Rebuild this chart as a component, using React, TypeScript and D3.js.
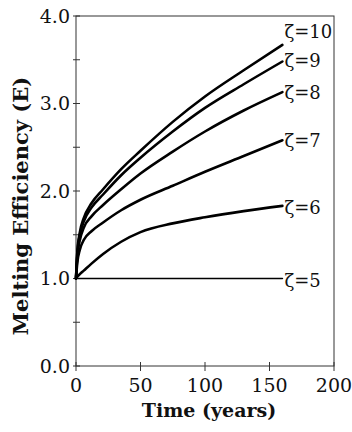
import * as d3 from 'd3';

const years = [0, 1, 3, 6, 12, 21, 35, 50, 75, 100, 130, 160];
const zeta10 = [1, 1.3, 1.53, 1.69, 1.86, 2.02, 2.25, 2.46, 2.79, 3.08, 3.38, 3.67];
const zeta9 = [1, 1.28, 1.5, 1.65, 1.81, 1.96, 2.18, 2.38, 2.68, 2.95, 3.22, 3.48];
const zeta8 = [1, 1.25, 1.44, 1.58, 1.71, 1.84, 2.02, 2.2, 2.45, 2.68, 2.92, 3.13];
const zeta7 = [1, 1.18, 1.33, 1.44, 1.54, 1.64, 1.78, 1.9, 2.06, 2.22, 2.4, 2.58];
const zeta6 = [1, 1.02, 1.05, 1.09, 1.17, 1.28, 1.42, 1.53, 1.63, 1.7, 1.77, 1.83];
const zeta5 = [1, 1, 1, 1, 1, 1, 1, 1, 1, 1, 1, 1];

const seriesNames = ['ζ=10', 'ζ=9', 'ζ=8', 'ζ=7', 'ζ=6', 'ζ=5'];
const seriesValues = [zeta10, zeta9, zeta8, zeta7, zeta6, zeta5];

const xTicks = [0, 50, 100, 150, 200];
const yTicks = [0, 0.5, 1, 1.5, 2, 2.5, 3, 3.5, 4];
const yLabels = ['0.0', '1.0', '2.0', '3.0', '4.0'];

const width = 352;
const height = 432;
const margin = { top: 16, right: 18, bottom: 66, left: 76 };
const font = '"DejaVu Serif", "Liberation Serif", serif';

export default function App() {
  const x = d3.scaleLinear().domain([0, 200]).range([margin.left, width - margin.right]);
  const y = d3.scaleLinear().domain([0, 4]).range([height - margin.bottom, margin.top]);

  const line = d3
    .line<number>()
    .x((_, i) => x(years[i]))
    .y((d) => y(d))
    .curve(d3.curveMonotoneX);

  // label nudges so the top two names don't collide
  const labelShift = [-13, -1, 0, 0, 2, 2];

  return (
    <svg
      width={width}
      height={height}
      style={{ position: 'absolute', left: 0, top: 0, background: '#fff' }}
    >
      <rect
        x={x(0)}
        y={y(4)}
        width={x(200) - x(0)}
        height={y(0) - y(4)}
        fill="none"
        stroke="#333"
        strokeWidth={1}
      />
      {yTicks.map((t) => (
        <line key={'yt' + t} x1={x(0) - 3} x2={x(0) + 4} y1={y(t)} y2={y(t)} stroke="#333" />
      ))}
      {xTicks.map((t) => (
        <line key={'xt' + t} x1={x(t)} x2={x(t)} y1={y(0) - 4} y2={y(0) + 5} stroke="#333" />
      ))}
      {yLabels.map((l) => (
        <text
          key={'yl' + l}
          x={x(0) - 6}
          y={y(+l)}
          dy="0.36em"
          textAnchor="end"
          fontFamily={font}
          fontSize={19}
          fill="#111"
        >
          {l}
        </text>
      ))}
      {xTicks.map((t) => (
        <text
          key={'xl' + t}
          x={x(t)}
          y={y(0) + 26}
          textAnchor="middle"
          fontFamily={font}
          fontSize={19}
          fill="#111"
        >
          {t}
        </text>
      ))}
      <text
        x={(x(0) + x(200)) / 2 + 4}
        y={417}
        textAnchor="middle"
        fontFamily={font}
        fontWeight="bold"
        fontSize={19}
        fill="#111"
      >
        Time (years)
      </text>
      <text
        transform={`translate(28,${206}) rotate(-90)`}
        textAnchor="middle"
        fontFamily={font}
        fontWeight="bold"
        fontSize={21}
        fill="#111"
      >
        Melting Efficiency (E)
      </text>
      {seriesValues.map((vals, i) => (
        <path
          key={'s' + i}
          d={line(vals) ?? ''}
          fill="none"
          stroke="#000"
          strokeWidth={i === 5 ? 1.6 : 2.6}
          strokeLinecap="round"
        />
      ))}
      {seriesValues.map((vals, i) => (
        <text
          key={'n' + i}
          x={x(years[years.length - 1]) + 2}
          y={y(vals[vals.length - 1]) + labelShift[i]}
          dy="0.36em"
          fontFamily={font}
          fontSize={18}
          fill="#111"
        >
          {seriesNames[i]}
        </text>
      ))}
    </svg>
  );
}
